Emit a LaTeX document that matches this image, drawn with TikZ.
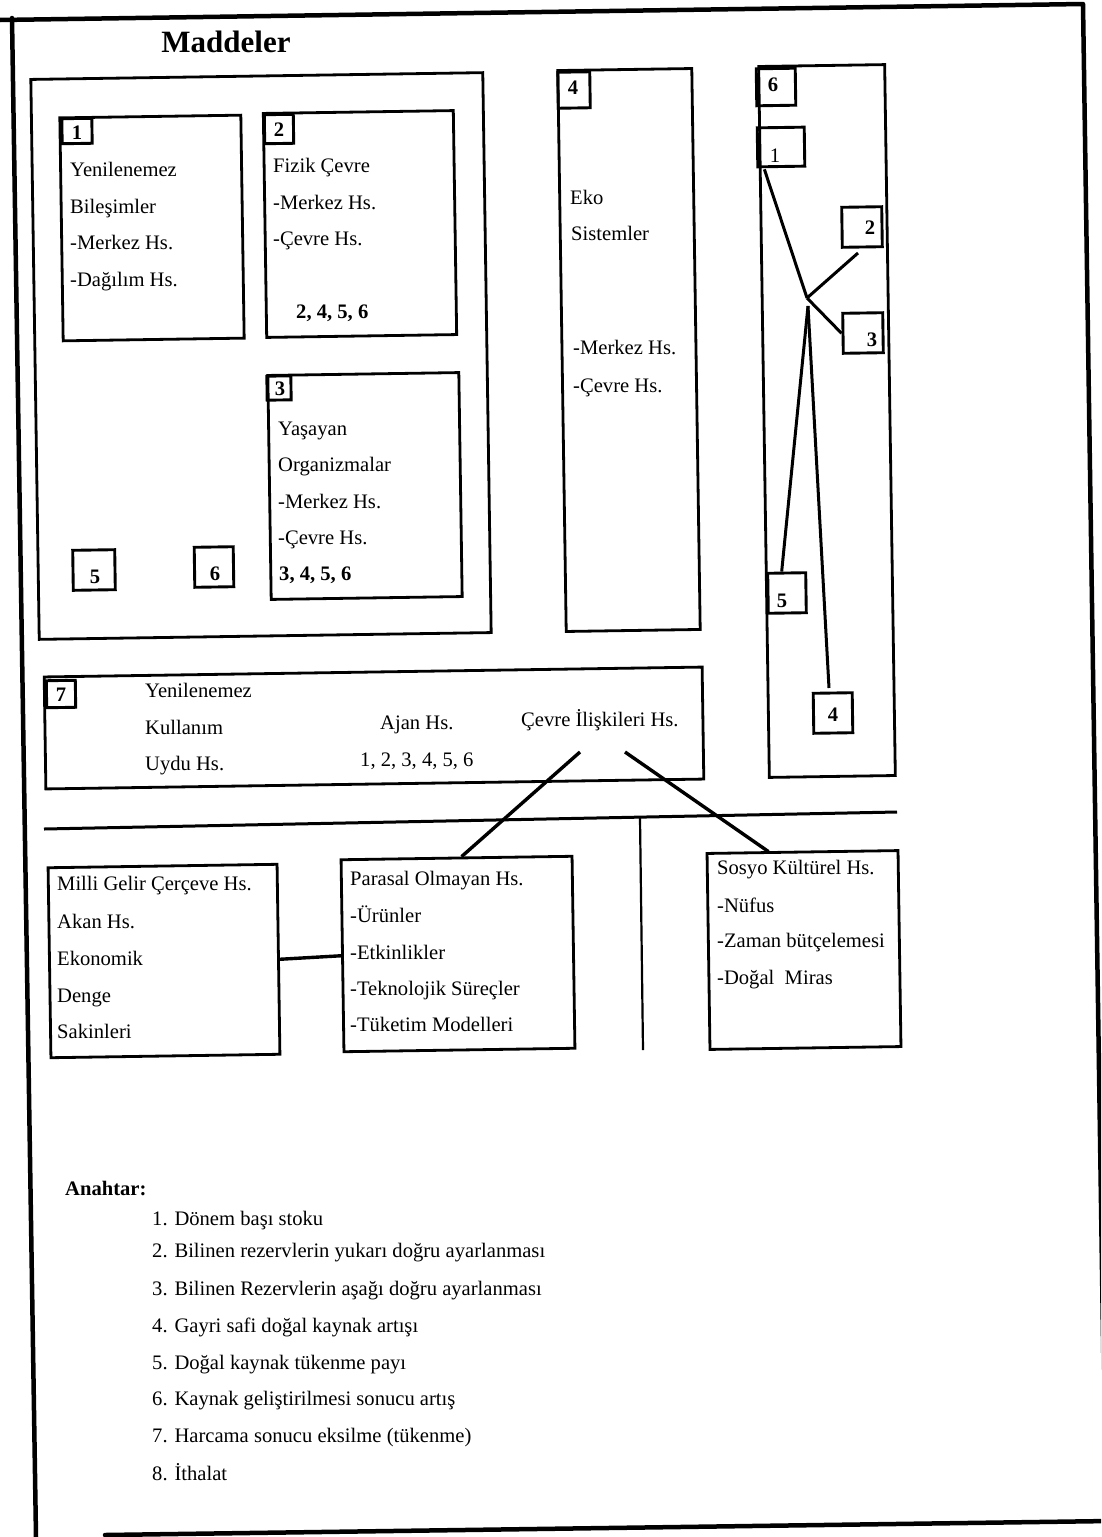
\documentclass[tikz,border=0pt]{standalone}
\usepackage{fontspec}
\setmainfont{Liberation Serif}
\usetikzlibrary{calc}
\begin{document}
\begin{tikzpicture}[x={(1pt,0)}, y={(0,-1pt)},
  rot/.style={rotate=0.86},
  box/.style={draw, line width=2.8pt, rectangle, inner sep=0pt, rot},
  sq/.style={draw, line width=2.9pt, rectangle, inner sep=0pt, rot},
  labb/.style={inner sep=0pt, font=\fontsize{20.6}{24}\selectfont\bfseries},
  labr/.style={inner sep=0pt, font=\fontsize{20.6}{24}\selectfont},
  txt/.style={anchor=base west, inner sep=0pt, font=\fontsize{20.6}{24}\selectfont},
  conn/.style={line width=3.4pt},
  frame/.style={line width=4.5pt, line cap=round, line join=round},
]
\useasboundingbox (0,0) rectangle (1101,1537);
\clip (0,0) rectangle (1101,1537);

% outer frame
\coordinate (ft0) at (0,20);
\coordinate (ft1) at (1083,4);
\coordinate (ft2) at (1106,1537);
\coordinate (fl0) at (12,18);
\coordinate (fl1) at (36,1537);
\coordinate (fb0) at (105,1535);
\coordinate (fb1) at (1110,1521);
\draw[frame] (ft0) -- (ft1) -- (ft2);
\draw[frame] (fl0) -- (fl1);
\draw[frame] (fb0) -- (fb1);

% title
\node[inner sep=0pt, font=\fontsize{31}{34}\selectfont\bfseries] (title) at (226,42) {Maddeler};

% group box
\node[box, minimum width=452pt, minimum height=560pt] (grp) at (261,356) {};

% box 1
\node[box, minimum width=181pt, minimum height=223pt] (k1) at (152,228) {};
\node[sq, minimum width=30pt, minimum height=25pt] (q1) at (77,131) {};
\node[labb] (n1) at (77,133) {1};
\node[txt] (k1a) at (70,176) {Yenilenemez};
\node[txt] (k1b) at (70,213) {Bileşimler};
\node[txt] (k1c) at (70,249) {-Merkez Hs.};
\node[txt] (k1d) at (70,286) {-Dağılım Hs.};

% box 2
\node[box, minimum width=190pt, minimum height=224pt] (k2) at (360,224) {};
\node[sq, minimum width=29pt, minimum height=29pt] (q2) at (279,129) {};
\node[labb] (n2) at (279,130) {2};
\node[txt] (k2a) at (273,172) {Fizik Çevre};
\node[txt] (k2b) at (273,209) {-Merkez Hs.};
\node[txt] (k2c) at (273,245) {-Çevre Hs.};
\node[txt, font=\fontsize{20.6}{24}\selectfont\bfseries] (k2d) at (296,318) {2, 4, 5, 6};

% box 3
\node[box, minimum width=191pt, minimum height=224pt] (k3) at (365,486) {};
\node[sq, minimum width=24pt, minimum height=24pt] (q3) at (279,388) {};
\node[labb] (n3) at (280,389) {3};
\node[txt] (k3a) at (278,435) {Yaşayan};
\node[txt] (k3b) at (278,471) {Organizmalar};
\node[txt] (k3c) at (278,508) {-Merkez Hs.};
\node[txt] (k3d) at (278,544) {-Çevre Hs.};
\node[txt, font=\fontsize{20.6}{24}\selectfont\bfseries] (k3e) at (279,580) {3, 4, 5, 6};

% small boxes 5 and 6
\node[sq, minimum width=42pt, minimum height=40pt] (s5) at (94,570) {};
\node[labb] (s5n) at (95,577) {5};
\node[sq, minimum width=39pt, minimum height=40pt] (s6) at (214,567) {};
\node[labb] (s6n) at (215,574) {6};

% box 4
\node[box, minimum width=134pt, minimum height=561pt] (k4) at (629,350) {};
\node[sq, minimum width=32pt, minimum height=36pt] (q4) at (574,90) {};
\node[labb] (n4) at (573,88) {4};
\node[txt] (k4a) at (570,204) {Eko};
\node[txt] (k4b) at (571,240) {Sistemler};
\node[txt] (k4c) at (573,354) {-Merkez Hs.};
\node[txt] (k4d) at (573,392) {-Çevre Hs.};

% box 6
\node[box, minimum width=126pt, minimum height=711pt] (k6) at (827,421) {};
\node[sq, minimum width=39pt, minimum height=37pt] (q6) at (776,87) {};
\node[labb] (n6) at (773,85) {6};
\node[sq, minimum width=47pt, minimum height=39pt] (b1) at (781,147) {};
\node[labr] (b1n) at (775,156) {1};
\node[sq, minimum width=40pt, minimum height=40pt] (b2) at (862,227) {};
\node[labb] (b2n) at (870,228) {2};
\node[sq, minimum width=40pt, minimum height=40pt] (b3) at (863,333) {};
\node[labb] (b3n) at (872,340) {3};
\node[sq, minimum width=38pt, minimum height=40pt] (b5) at (787,593) {};
\node[labb] (b5n) at (782,601) {5};
\node[sq, minimum width=39pt, minimum height=40pt] (b4) at (833,713) {};
\node[labb] (b4n) at (833,715) {4};
\coordinate (J) at (807,298);
\coordinate (J2) at (808,306);
\coordinate (e2) at (858,253);
\coordinate (e4) at (829,688);
\draw[conn, line width=3pt] ($(b1.south west)+(8,1)$) -- (J);
\draw[conn, line width=3pt] (J) -- (e2);
\draw[conn, line width=3pt] (J) -- (b3.west);
\draw[conn, line width=3pt] (J2) -- ($(b5.north)+(-5,0)$);
\draw[conn, line width=3pt] (J2) -- (e4);

% box 7
\node[box, minimum width=658pt, minimum height=112pt] (k7) at (374,728) {};
\node[sq, minimum width=29pt, minimum height=27pt] (q7) at (61,694) {};
\node[labb] (n7) at (61,695) {7};
\node[txt] (k7a) at (145,697) {Yenilenemez};
\node[txt] (k7b) at (145,734) {Kullanım};
\node[txt] (k7c) at (145,770) {Uydu Hs.};
\node[txt] (k7d) at (380,729) {Ajan Hs.};
\node[txt] (k7e) at (360,766) {1, 2, 3, 4, 5, 6};
\node[txt] (k7f) at (521,726) {Çevre İlişkileri Hs.};

% lower boxes
\node[box, minimum width=229pt, minimum height=190pt] (mil) at (164,961) {};
\node[txt] (mila) at (57,890) {Milli Gelir Çerçeve Hs.};
\node[txt] (milb) at (57,928) {Akan Hs.};
\node[txt] (milc) at (57,965) {Ekonomik};
\node[txt] (mild) at (57,1002) {Denge};
\node[txt] (mile) at (57,1038) {Sakinleri};

\node[box, minimum width=231pt, minimum height=192pt] (par) at (458,954) {};
\node[txt] (para) at (350,885) {Parasal Olmayan Hs.};
\node[txt] (parb) at (350,922) {-Ürünler};
\node[txt] (parc) at (350,959) {-Etkinlikler};
\node[txt] (pard) at (350,995) {-Teknolojik Süreçler};
\node[txt] (pare) at (350,1031) {-Tüketim Modelleri};

\node[box, minimum width=191pt, minimum height=196pt] (sos) at (804,950) {};
\node[txt] (sosa) at (717,874) {Sosyo Kültürel Hs.};
\node[txt] (sosb) at (717,912) {-Nüfus};
\node[txt] (sosc) at (717,947) {-Zaman bütçelemesi};
\node[txt] (sosd) at (717,984) {-Doğal\ \ Miras};

% connectors
\coordinate (c1) at (580,752);
\coordinate (c2) at (625,752);
\draw[conn] (c1) -- ($(par.north)+(5,0)$);
\draw[conn] (c2) -- ($(sos.north)+(-34,1)$);
\coordinate (h0) at (44,829);
\coordinate (h1) at (897,812);
\draw[line width=3pt] (h0) -- (h1);
\coordinate (v0) at (640,818);
\coordinate (v1) at (643,1050);
\draw[line width=2.2pt] (v0) -- (v1);
\draw[conn] (mil.east) -- (par.west);

% key
\node[txt, font=\fontsize{20.6}{24}\selectfont\bfseries] (key) at (65,1195) {Anahtar:};
\node[txt] (key1) at (152,1225) {1. Dönem başı stoku};
\node[txt] (key2) at (152,1257) {2. Bilinen rezervlerin yukarı doğru ayarlanması};
\node[txt] (key3) at (152,1295) {3. Bilinen Rezervlerin aşağı doğru ayarlanması};
\node[txt] (key4) at (152,1332) {4. Gayri safi doğal kaynak artışı};
\node[txt] (key5) at (152,1369) {5. Doğal kaynak tükenme payı};
\node[txt] (key6) at (152,1405) {6. Kaynak geliştirilmesi sonucu artış};
\node[txt] (key7) at (152,1442) {7. Harcama sonucu eksilme (tükenme)};
\node[txt] (key8) at (152,1480) {8. İthalat};
\end{tikzpicture}
\end{document}
